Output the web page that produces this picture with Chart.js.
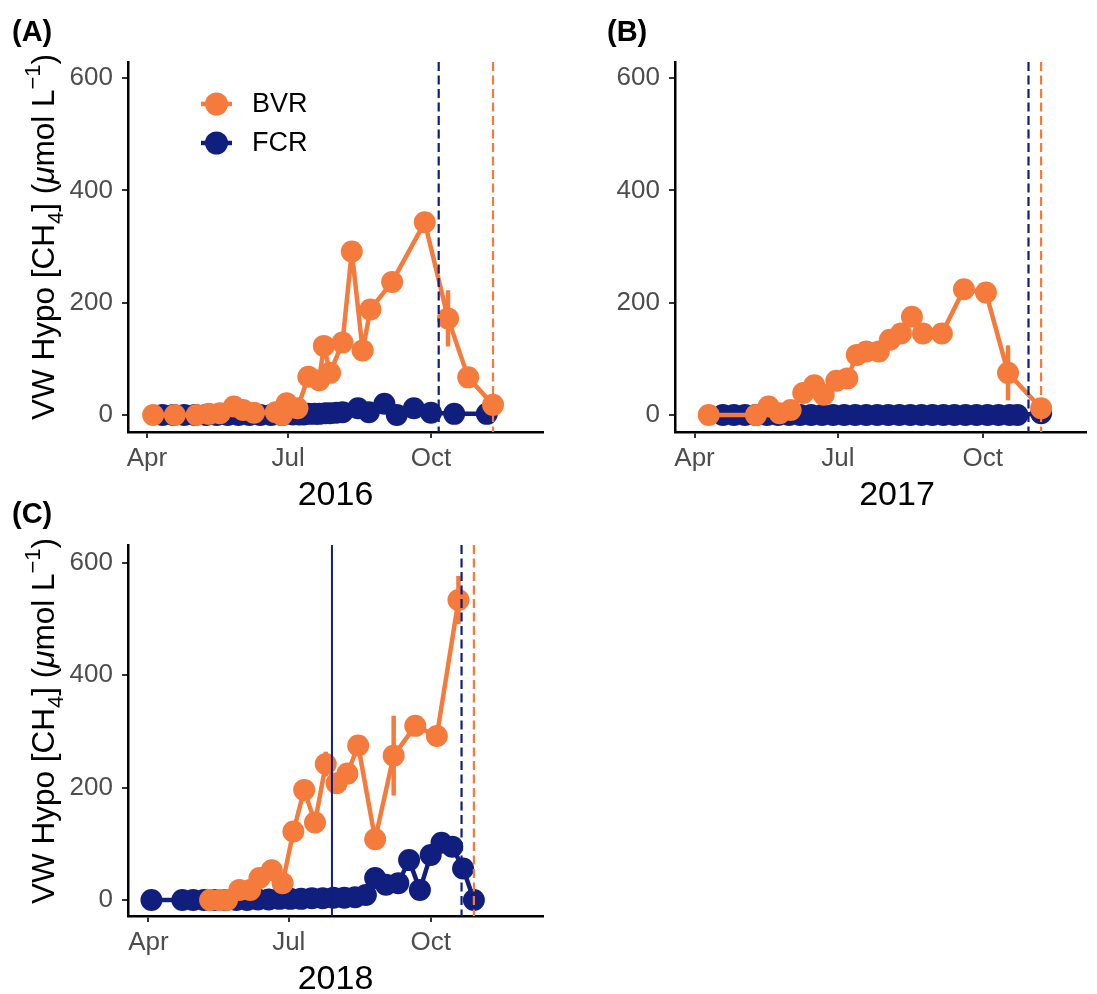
<!DOCTYPE html>
<html>
<head>
<meta charset="utf-8">
<script src="https://cdn.jsdelivr.net/npm/chart.js@4.4.1/dist/chart.umd.min.js"></script>
<style>
  html, body { margin: 0; padding: 0; background: #fff; }
  #fig { position: relative; width: 1097px; height: 994px; overflow: hidden; background: #fff; }
  #fig canvas { position: absolute; }
</style>
</head>
<body>
<div id="fig">
  <canvas id="pA"></canvas>
  <canvas id="pB"></canvas>
  <canvas id="pC"></canvas>
</div>
<script>
// ---- Volume-weighted hypolimnetic CH4 (µmol/L), Beaverdam (BVR) and Falling Creek (FCR) ----

// 2016
const bvrDates2016 = ['2016-04-05','2016-04-19','2016-05-03','2016-05-11','2016-05-18','2016-05-27','2016-06-02','2016-06-09',
  '2016-06-23','2016-06-27','2016-06-30','2016-07-07','2016-07-14','2016-07-21','2016-07-24','2016-07-28','2016-08-05',
  '2016-08-11','2016-08-18','2016-08-23','2016-09-06','2016-09-27','2016-10-12','2016-10-25','2016-11-10'];
const bvrCH4_2016 = [0, 0, 0, 2, 3, 15, 9, 4, 5, 0, 21, 12, 68, 62, 123, 75, 129, 291, 115, 188, 237, 343, 172, 67, 18];
const bvrSd2016   = [1, 1, 1, 1, 1, 2, 2, 1, 2, 1, 3, 2, 6, 5, 8, 6, 8, 10, 8, 9, 10, 12, 50, 8, 3];
const fcrDates2016 = ['2016-04-11','2016-04-18','2016-04-25','2016-05-02','2016-05-09','2016-05-16','2016-05-23','2016-05-30',
  '2016-06-06','2016-06-13','2016-06-20','2016-06-27','2016-07-04','2016-07-08','2016-07-11','2016-07-14','2016-07-18',
  '2016-07-21','2016-07-25','2016-07-28','2016-08-01','2016-08-05','2016-08-15','2016-08-22','2016-09-01','2016-09-09',
  '2016-09-20','2016-10-01','2016-10-16','2016-11-06'];
const fcrCH4_2016 = [0, 0, 0, 0, 0, 0, 0, 0, 0, 0, 0, 0, 1, 1, 1, 2, 2, 2, 3, 3, 4, 5, 12, 5, 20, 0, 12, 4, 2, 2];

// 2017
const bvrDates2017 = ['2017-04-10','2017-05-10','2017-05-18','2017-05-25','2017-06-01','2017-06-09','2017-06-16','2017-06-22',
  '2017-06-30','2017-07-07','2017-07-13','2017-07-19','2017-07-27','2017-08-03','2017-08-10','2017-08-17','2017-08-24',
  '2017-09-05','2017-09-19','2017-10-03','2017-10-17','2017-11-07'];
const bvrCH4_2017 = [0, 0, 15, 3, 9, 39, 53, 36, 61, 65, 107, 113, 113, 134, 145, 175, 145, 145, 224, 218, 75, 12];
const bvrSd2017   = [1, 1, 2, 1, 2, 4, 5, 4, 5, 5, 7, 7, 7, 8, 8, 9, 8, 8, 10, 10, 49, 4];
const fcrDates2017 = ['2017-04-19','2017-04-26','2017-05-03','2017-05-10','2017-05-17','2017-05-24','2017-05-31','2017-06-07',
  '2017-06-14','2017-06-21','2017-06-28','2017-07-05','2017-07-12','2017-07-19','2017-07-26','2017-08-02','2017-08-09',
  '2017-08-16','2017-08-23','2017-08-30','2017-09-06','2017-09-13','2017-09-20','2017-09-27','2017-10-04','2017-10-11',
  '2017-10-18','2017-10-23','2017-11-07'];
const fcrCH4_2017 = [0, 0, 0, 0, 0, 0, 0, 0, 0, 0, 0, 0, 0, 0, 0, 0, 0, 0, 0, 0, 0, 0, 0, 0, 0, 0, 0, 0, 3];

// 2018
const bvrDates2018 = ['2018-05-11','2018-05-17','2018-05-22','2018-05-30','2018-06-06','2018-06-12','2018-06-20','2018-06-27',
  '2018-07-04','2018-07-11','2018-07-18','2018-07-25','2018-08-01','2018-08-08','2018-08-15','2018-08-26','2018-09-07',
  '2018-09-21','2018-10-05','2018-10-19'];
const bvrCH4_2018 = [0, 0, 0, 18, 18, 39, 53, 30, 122, 196, 138, 242, 208, 225, 275, 108, 257, 310, 292, 534];
const bvrSd2018   = [1, 1, 1, 2, 2, 4, 5, 3, 8, 10, 8, 22, 10, 10, 12, 8, 71, 12, 12, 43];
const fcrDates2018 = ['2018-04-03','2018-04-23','2018-04-30','2018-05-07','2018-05-14','2018-05-21','2018-05-28','2018-06-04',
  '2018-06-11','2018-06-18','2018-06-25','2018-07-02','2018-07-09','2018-07-16','2018-07-23','2018-07-30','2018-08-06',
  '2018-08-13','2018-08-20','2018-08-26','2018-09-02','2018-09-10','2018-09-17','2018-09-24','2018-10-01','2018-10-08',
  '2018-10-15','2018-10-22','2018-10-29'];
const fcrCH4_2018 = [0, 0, 0, 0, 0, 0, 0, 0, 1, 1, 2, 2, 2, 3, 3, 4, 4, 5, 9, 39, 27, 30, 71, 18, 80, 102, 95, 56, 0];

// Fall turnover dates (dashed) and the 2018 FCR oxygenation shut-off (solid)
const fcrTurnover = ['2016-10-06', '2017-10-30', '2018-10-21'];
const bvrTurnover = ['2016-11-10', '2017-11-07', '2018-10-29'];
const fcrOxygenOff = ['2018-07-29'];

// Axis ticks
const monthTickDates = ['04-01', '07-01', '10-01'];
const monthTickLabels = ['Apr', 'Jul', 'Oct'];
const ch4Ticks = [0, 200, 400, 600];

const BVR_COLOR = '#F47B3C';
const FCR_COLOR = '#101E7E';
const FONT = "'Liberation Sans', Arial, Helvetica, sans-serif";
Chart.defaults.font.family = FONT;

function dayOfYear(iso) {
  const y = +iso.slice(0, 4), m = +iso.slice(5, 7), d = +iso.slice(8, 10);
  return (Date.UTC(y, m - 1, d) - Date.UTC(y, 0, 1)) / 86400000;
}
function series(dates, vals) {
  return dates.map((d, i) => ({ x: dayOfYear(d), y: vals[i] }));
}

const panels = [
  { id: 'pA', year: 2016, tag: '(A)', legend: true, yTitle: true, k: 0,
    box: { left: 0, top: 0, width: 560, height: 520 },
    area: { left: 128, top: 62, right: 543, bottom: 432 },
    xMin: 78.8, xMax: 346.2, yMin: -30.3, yMax: 628.5,
    tagPos: [12, 41], xTitleX: 335.5, xTitleY: 505, yTitlePos: [54, 237],
    bvr: [bvrDates2016, bvrCH4_2016, bvrSd2016], fcr: [fcrDates2016, fcrCH4_2016] },
  { id: 'pB', year: 2017, tag: '(B)', legend: false, yTitle: false, k: 1,
    box: { left: 560, top: 0, width: 537, height: 520 },
    area: { left: 115, top: 62, right: 537, bottom: 432 },
    xMin: 77.6, xMax: 338.5, yMin: -30.3, yMax: 628.5,
    tagPos: [47, 41], xTitleX: 337, xTitleY: 505, yTitlePos: null,
    bvr: [bvrDates2017, bvrCH4_2017, bvrSd2017], fcr: [fcrDates2017, fcrCH4_2017] },
  { id: 'pC', year: 2018, tag: '(C)', legend: false, yTitle: true, k: 2,
    box: { left: 0, top: 470, width: 560, height: 524 },
    area: { left: 128, top: 75, right: 543, bottom: 446 },
    xMin: 76.8, xMax: 345.8, yMin: -28.5, yMax: 632,
    tagPos: [12, 53], xTitleX: 335.5, xTitleY: 519, yTitlePos: [54, 251],
    bvr: [bvrDates2018, bvrCH4_2018, bvrSd2018], fcr: [fcrDates2018, fcrCH4_2018] }
];

// y-axis title with sub/superscripts, drawn rotated
function drawYTitle(ctx, x, y) {
  const size = 31.5;
  const parts = [
    { t: 'VW Hypo [CH', s: 1, dy: 0 },
    { t: '4', s: 0.7, dy: 0.28 },
    { t: '] (', s: 1, dy: 0 },
    { t: 'μ', s: 1, dy: 0, it: true },
    { t: 'mol L', s: 1, dy: 0 },
    { t: '−1', s: 0.7, dy: -0.45 },
    { t: ')', s: 1, dy: 0 }
  ];
  ctx.save();
  ctx.translate(x, y);
  ctx.rotate(-Math.PI / 2);
  ctx.fillStyle = '#000';
  ctx.textBaseline = 'alphabetic';
  ctx.textAlign = 'left';
  let total = 0;
  parts.forEach(p => {
    ctx.font = (p.it ? 'italic ' : '') + (size * p.s) + 'px ' + FONT;
    p.w = ctx.measureText(p.t).width;
    total += p.w;
  });
  let cx = -total / 2;
  parts.forEach(p => {
    ctx.font = (p.it ? 'italic ' : '') + (size * p.s) + 'px ' + FONT;
    ctx.fillText(p.t, cx, p.dy * size);
    cx += p.w;
  });
  ctx.restore();
}

function makeOverlay(p) {
  return {
    id: 'overlay' + p.id,
    afterDatasetsDraw(chart) {
      const { ctx, chartArea: a, scales: { x, y } } = chart;
      ctx.save();
      // error bars (±1 SD) on BVR
      const [bd, bv, bs] = p.bvr;
      ctx.strokeStyle = BVR_COLOR;
      ctx.lineWidth = 4.5;
      bd.forEach((d, i) => {
        const px = x.getPixelForValue(dayOfYear(d));
        ctx.beginPath();
        ctx.moveTo(px, y.getPixelForValue(bv[i] - bs[i]));
        ctx.lineTo(px, y.getPixelForValue(bv[i] + bs[i]));
        ctx.stroke();
      });
      // reference lines
      ctx.beginPath();
      ctx.rect(a.left, a.top, a.right - a.left, a.bottom - a.top);
      ctx.clip();
      const vline = (iso, color, dash, w) => {
        const px = x.getPixelForValue(dayOfYear(iso));
        ctx.strokeStyle = color;
        ctx.lineWidth = w;
        ctx.setLineDash(dash);
        ctx.beginPath();
        ctx.moveTo(px, a.top);
        ctx.lineTo(px, a.bottom);
        ctx.stroke();
      };
      fcrOxygenOff.filter(d => +d.slice(0, 4) === p.year).forEach(d => vline(d, FCR_COLOR, [], 2));
      vline(fcrTurnover[p.k], FCR_COLOR, [9, 4.5], 2.2);
      vline(bvrTurnover[p.k], BVR_COLOR, [9, 4.5], 2.2);
      ctx.restore();
    },
    afterDraw(chart) {
      const ctx = chart.ctx;
      ctx.save();
      // panel tag
      ctx.fillStyle = '#000';
      ctx.font = 'bold 29px ' + FONT;
      ctx.textAlign = 'left';
      ctx.textBaseline = 'alphabetic';
      ctx.fillText(p.tag, p.tagPos[0], p.tagPos[1]);
      // x title
      ctx.font = '34px ' + FONT;
      ctx.textAlign = 'center';
      ctx.fillText(String(p.year), p.xTitleX, p.xTitleY);
      // y title
      if (p.yTitle) drawYTitle(ctx, p.yTitlePos[0], p.yTitlePos[1]);
      // legend
      if (p.legend) {
        [['BVR', BVR_COLOR], ['FCR', FCR_COLOR]].forEach(([name, col], i) => {
          const cy = 104 + i * 39;
          ctx.strokeStyle = col;
          ctx.lineWidth = 4.5;
          ctx.beginPath();
          ctx.moveTo(201, cy);
          ctx.lineTo(232, cy);
          ctx.stroke();
          ctx.fillStyle = col;
          ctx.beginPath();
          ctx.arc(216.5, cy, 11.5, 0, Math.PI * 2);
          ctx.fill();
          ctx.fillStyle = '#000';
          ctx.font = '27px ' + FONT;
          ctx.textAlign = 'left';
          ctx.textBaseline = 'middle';
          ctx.fillText(name, 252, cy + 1);
        });
      }
      ctx.restore();
    }
  };
}

function lineDataset(label, data, color) {
  return {
    label, data,
    borderColor: color, backgroundColor: color,
    pointBackgroundColor: color, pointBorderColor: color,
    borderWidth: 4.5, pointRadius: 11, pointHoverRadius: 11, pointBorderWidth: 0,
    tension: 0, fill: false, borderJoinStyle: 'round'
  };
}

panels.forEach(p => {
  const cv = document.getElementById(p.id);
  cv.width = p.box.width;
  cv.height = p.box.height;
  cv.style.left = p.box.left + 'px';
  cv.style.top = p.box.top + 'px';
  cv.style.width = p.box.width + 'px';
  cv.style.height = p.box.height + 'px';
  const a = p.area;

  new Chart(cv, {
    type: 'line',
    data: {
      datasets: [
        lineDataset('BVR', series(p.bvr[0], p.bvr[1]), BVR_COLOR),
        lineDataset('FCR', series(p.fcr[0], p.fcr[1]), FCR_COLOR)
      ]
    },
    options: {
      responsive: false,
      animation: false,
      devicePixelRatio: 1,
      events: [],
      layout: { padding: { left: 0, top: a.top, right: p.box.width - a.right, bottom: 0 } },
      plugins: { legend: { display: false }, tooltip: { enabled: false } },
      scales: {
        x: {
          type: 'linear', min: p.xMin, max: p.xMax,
          afterBuildTicks: s => { s.ticks = monthTickDates.map(md => ({ value: dayOfYear(p.year + '-' + md) })); },
          afterFit: s => { s.height = p.box.height - a.bottom; },
          grid: { drawOnChartArea: false, drawTicks: true, tickLength: 6, color: '#333', lineWidth: 2 },
          border: { display: true, color: '#000', width: 2.5 },
          ticks: { color: '#4D4D4D', font: { size: 26 }, padding: 5, maxRotation: 0, autoSkip: false,
                   callback: (v, i) => monthTickLabels[i] }
        },
        y: {
          type: 'linear', min: p.yMin, max: p.yMax,
          afterBuildTicks: s => { s.ticks = ch4Ticks.map(v => ({ value: v })); },
          afterFit: s => { s.width = a.left; },
          grid: { drawOnChartArea: false, drawTicks: true, tickLength: 6, color: '#333', lineWidth: 2 },
          border: { display: true, color: '#000', width: 2.5 },
          ticks: { color: '#4D4D4D', font: { size: 26 }, padding: 9, callback: v => String(v) }
        }
      }
    },
    plugins: [makeOverlay(p)]
  });
});
</script>
</body>
</html>
